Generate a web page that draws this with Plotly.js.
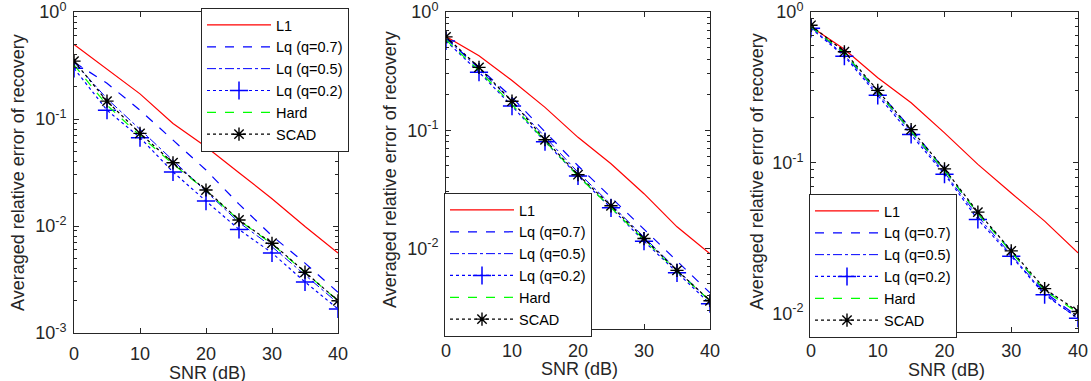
<!DOCTYPE html>
<html>
<head>
<meta charset="utf-8">
<script src="https://cdn.plot.ly/plotly-3.0.1.min.js"></script>
<style>html,body{margin:0;padding:0;background:#fff;}#chart{width:1091px;height:381px;}</style>
</head>
<body>
<div id="chart"></div>
<script>
// ---- data ----
const snr = [0, 5, 10, 15, 20, 25, 30, 35, 40];
const seriesNames = ['L1', 'Lq (q=0.7)', 'Lq (q=0.5)', 'Lq (q=0.2)', 'Hard', 'SCAD'];

// panel 1
const p1_L1   = [0.497, 0.293, 0.172, 0.091, 0.055, 0.0315, 0.018, 0.0099, 0.0056];
const p1_Lq07 = [0.34, 0.216, 0.121, 0.064, 0.0334, 0.0160, 0.0081, 0.0045, 0.0024];
const p1_Lq05 = [0.34, 0.155, 0.080, 0.041, 0.0210, 0.0108, 0.0064, 0.0035, 0.0019];
const p1_Lq02 = [0.298, 0.121, 0.067, 0.032, 0.0171, 0.0093, 0.0056, 0.0030, 0.00168];
const p1_Hard = [0.32, 0.135, 0.070, 0.038, 0.0215, 0.0113, 0.0068, 0.0037, 0.0020];
const p1_SCAD = [0.348, 0.147, 0.0735, 0.039, 0.0217, 0.0114, 0.0069, 0.0037, 0.0020];

// panel 2
const p2_L1   = [0.62, 0.426, 0.263, 0.156, 0.087, 0.052, 0.029, 0.0152, 0.0090];
const p2_Lq07 = [0.60, 0.335, 0.19, 0.097, 0.050, 0.027, 0.0145, 0.0077, 0.0042];
const p2_Lq05 = [0.60, 0.33, 0.175, 0.087, 0.044, 0.0235, 0.0125, 0.0066, 0.0036];
const p2_Lq02 = [0.57, 0.31, 0.16, 0.080, 0.041, 0.022, 0.0115, 0.0062, 0.0034];
const p2_Hard = [0.58, 0.32, 0.165, 0.081, 0.041, 0.0222, 0.0118, 0.0064, 0.0036];
const p2_SCAD = [0.617, 0.34, 0.176, 0.083, 0.042, 0.0229, 0.0121, 0.0065, 0.0036];

// panel 3
const p3_L1   = [0.80, 0.566, 0.367, 0.25, 0.158, 0.0975, 0.063, 0.041, 0.0252];
const p3_Lq07 = [0.80, 0.53, 0.30, 0.168, 0.090, 0.046, 0.026, 0.0138, 0.0095];
const p3_Lq05 = [0.79, 0.52, 0.29, 0.160, 0.086, 0.044, 0.0245, 0.0135, 0.0092];
const p3_Lq02 = [0.78, 0.51, 0.28, 0.154, 0.084, 0.042, 0.024, 0.0133, 0.0093];
const p3_Hard = [0.80, 0.535, 0.295, 0.163, 0.089, 0.046, 0.0255, 0.0142, 0.0101];
const p3_SCAD = [0.817, 0.545, 0.302, 0.166, 0.091, 0.047, 0.026, 0.0146, 0.0103];

const yTickVals = [0.001, 0.01, 0.1, 1];
const yTickText = ['10<sup>-3</sup>', '10<sup>-2</sup>', '10<sup>-1</sup>', '10<sup>0</sup>'];
const xTickVals = [0, 10, 20, 30, 40];
const xTitle = 'SNR (dB)';
const yTitle = 'Averaged relative error of recovery';

// ---- styles ----
const styles = [
  {line: {color: '#ff0000', width: 1.2, dash: 'solid'}, mode: 'lines'},
  {line: {color: '#0000ff', width: 1.2, dash: 'dash'}, mode: 'lines'},
  {line: {color: '#0000ff', width: 1, dash: 'dashdot'}, mode: 'lines'},
  {line: {color: '#0000ff', width: 1.2, dash: 'dot'}, mode: 'lines+markers',
   marker: {symbol: 'cross-thin-open', size: 13, color: '#0000ff', line: {color: '#0000ff', width: 1.5}}},
  {line: {color: '#00ff00', width: 1.2, dash: 'dash'}, mode: 'lines'},
  {line: {color: '#000000', width: 1.2, dash: 'dot'}, mode: 'lines+markers',
   marker: {symbol: 'asterisk-open', size: 11, color: '#000000', line: {color: '#000000', width: 1.4}}}
];

const panels = [
  [p1_L1, p1_Lq07, p1_Lq05, p1_Lq02, p1_Hard, p1_SCAD],
  [p2_L1, p2_Lq07, p2_Lq05, p2_Lq02, p2_Hard, p2_SCAD],
  [p3_L1, p3_Lq07, p3_Lq05, p3_Lq02, p3_Hard, p3_SCAD]
];

const traces = [];
panels.forEach((pdata, pi) => {
  const sfx = pi === 0 ? '' : String(pi + 1);
  pdata.forEach((vals, si) => {
    const st = styles[si];
    const t = {
      x: snr, y: vals, name: seriesNames[si], type: 'scatter', mode: st.mode,
      line: st.line, xaxis: 'x' + sfx, yaxis: 'y' + sfx,
      legend: 'legend' + sfx, showlegend: true, cliponaxis: true
    };
    if (st.marker) t.marker = st.marker;
    traces.push(t);
  });
});

// minor ticks for log axes
const minorVals = [];
for (let e = -4; e <= 0; e++) {
  for (let m = 2; m <= 9; m++) minorVals.push(m * Math.pow(10, e));
}

const font = {family: '"Liberation Sans", Arial, Helvetica, sans-serif', color: '#262626'};
const W = 1091, H = 381;

function xaxis(domain, anchor, standoff) {
  return {
    domain: domain, anchor: anchor, range: [0, 40], tickvals: xTickVals,
    ticks: 'inside', ticklen: 5, tickcolor: '#262626', showline: true, linecolor: '#262626',
    linewidth: 1, mirror: 'allticks', showgrid: false, zeroline: false,
    ticklabelstandoff: standoff, ticklabeloverflow: 'allow',
    tickfont: {size: 18, color: '#262626'}
  };
}
function yaxis(domain, anchor, lo, hi) {
  return {
    domain: domain, anchor: anchor, type: 'log', range: [lo, hi],
    tickvals: yTickVals, ticktext: yTickText, ticks: 'inside', ticklen: 5,
    tickcolor: '#262626', showline: true, linecolor: '#262626', linewidth: 1,
    mirror: 'allticks', showgrid: false, zeroline: false,
    ticklabelstandoff: 3, ticklabeloverflow: 'allow',
    tickfont: {size: 18, color: '#262626'},
    minor: {tickvals: minorVals, ticks: 'inside', ticklen: 3, tickcolor: '#262626', showgrid: false}
  };
}

function legend(x, y) {
  return {
    x: x, y: y, xanchor: 'left', yanchor: 'top', bgcolor: '#ffffff',
    bordercolor: '#262626', borderwidth: 1, font: {size: 14.5, color: '#000000'},
    itemwidth: 64, tracegroupgap: 0, traceorder: 'normal', itemclick: false
  };
}

function xTitleAnn(cx, cy) {
  return {text: xTitle, x: cx / W, y: 1 - cy / H, xref: 'paper', yref: 'paper',
          xanchor: 'center', yanchor: 'middle', showarrow: false,
          font: {size: 18, color: '#262626'}};
}
function yTitleAnn(cx, cy) {
  return {text: yTitle, x: cx / W, y: 1 - cy / H, xref: 'paper', yref: 'paper',
          xanchor: 'center', yanchor: 'middle', showarrow: false, textangle: -90,
          font: {size: 18, color: '#262626'}};
}

const layout = {
  width: W, height: H, margin: {l: 0, r: 0, t: 0, b: 0},
  paper_bgcolor: '#ffffff', plot_bgcolor: '#ffffff', font: font, showlegend: true,
  xaxis: xaxis([74 / W, 338 / W], 'y', 4),
  yaxis: yaxis([1 - 333 / H, 1 - 12 / H], 'x', -3, 0.0005),
  xaxis2: xaxis([446 / W, 710 / W], 'y2', 5),
  yaxis2: yaxis([1 - 329 / H, 1 - 12 / H], 'x2', -2.683, 0.0005),
  xaxis3: xaxis([811 / W, 1078 / W], 'y3', 3),
  yaxis3: yaxis([1 - 331.5 / H, 1 - 12 / H], 'x3', -2.12, 0.0005),
  legend: legend(201 / W, 1 - 8 / H),
  legend2: legend(444 / W, 1 - 193 / H),
  legend3: legend(809 / W, 1 - 194 / H),
  annotations: [
    xTitleAnn(207, 373), xTitleAnn(579, 369), xTitleAnn(946, 370),
    yTitleAnn(18, 173), yTitleAnn(390, 170), yTitleAnn(757, 172)
  ]
};

Plotly.newPlot('chart', traces, layout, {staticPlot: true, displayModeBar: false});
</script>
</body>
</html>
